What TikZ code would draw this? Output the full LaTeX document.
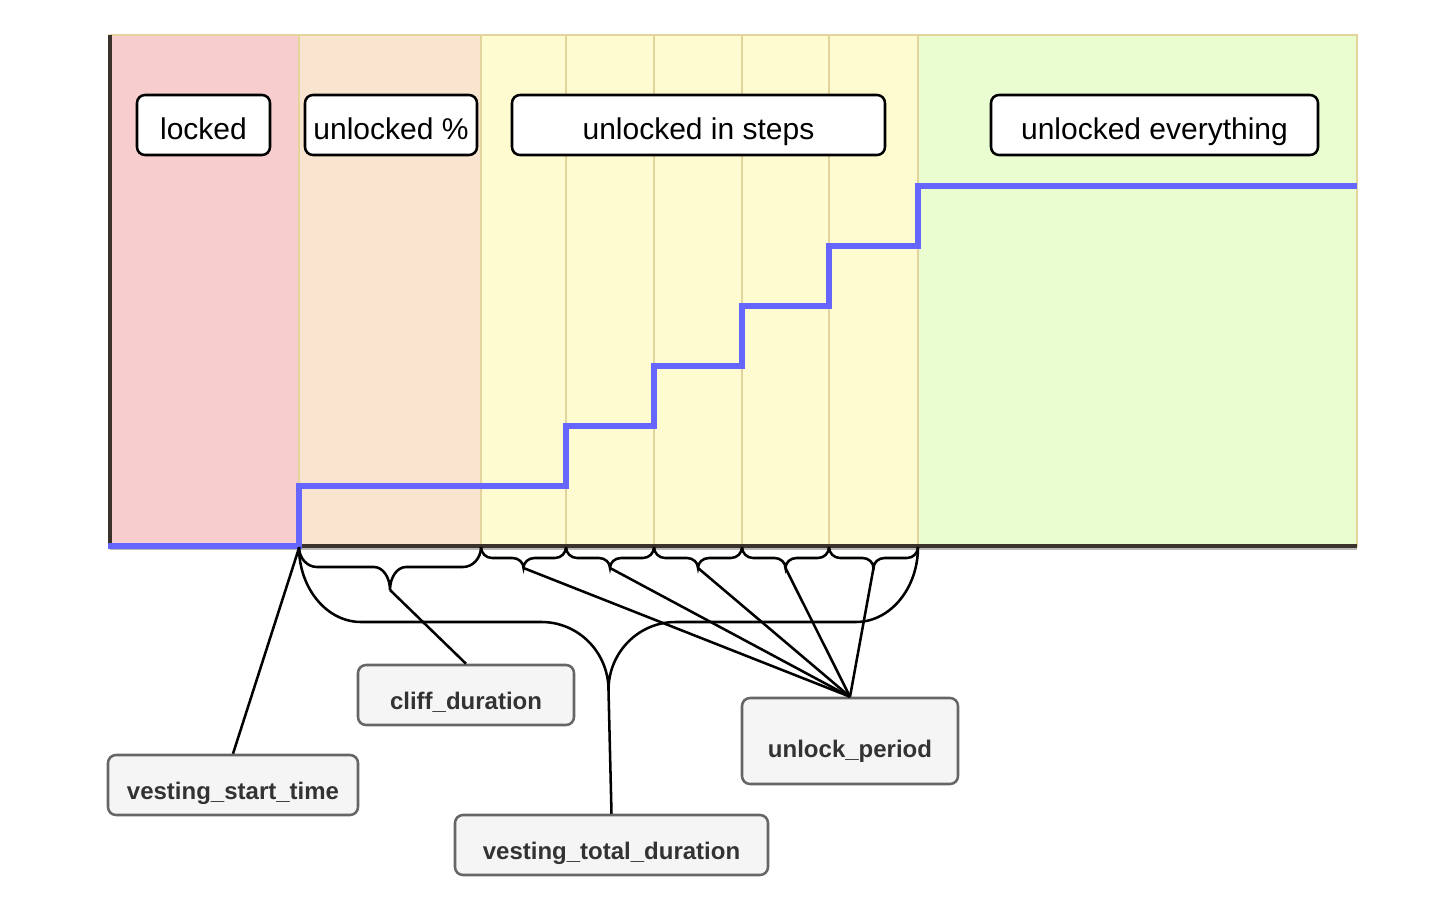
\documentclass[tikz,border=0pt]{standalone}
\usepackage{fontspec}
\setmainfont{Liberation Sans}
\definecolor{cRed}{HTML}{F7CDCD}
\definecolor{cOrange}{HTML}{F9E5CF}
\definecolor{cYellow}{HTML}{FFFBD0}
\definecolor{cGreen}{HTML}{E9FDD1}
\definecolor{cBorder}{HTML}{E3D49C}
\definecolor{cAxis}{HTML}{3A322B}
\definecolor{cBlue}{HTML}{6666FF}
\definecolor{cBoxFill}{HTML}{F5F5F5}
\definecolor{cBoxLine}{HTML}{666666}
\definecolor{cBoxText}{HTML}{333333}
\newcommand{\curlybr}[7]{%
  \draw[brc] (#1,#3) .. controls (#1,{#3+0.552*(#4-#3)}) and ({#1+0.448*#6},#4) .. ({#1+#6},#4)
    -- ({(#1+#2)/2-#7},#4) .. controls ({(#1+#2)/2-0.448*#7},#4) and ({(#1+#2)/2},{#4+0.448*(#5-#4)}) .. ({(#1+#2)/2},#5)
    .. controls ({(#1+#2)/2},{#4+0.448*(#5-#4)}) and ({(#1+#2)/2+0.448*#7},#4) .. ({(#1+#2)/2+#7},#4)
    -- ({#2-#6},#4) .. controls ({#2-0.448*#6},#4) and (#2,{#3+0.552*(#4-#3)}) .. (#2,#3);}
\tikzset{
  col/.style={draw=cBorder, line width=2.2pt},
  axisline/.style={draw=cAxis, line width=3pt},
  blueline/.style={draw=cBlue, line width=3.8pt},
  brc/.style={draw=black, line width=1.9pt},
  conn/.style={draw=black, line width=1.9pt},
  topbox/.style={draw=black, fill=white, line width=1.9pt, rounded corners=6pt,
    inner sep=0pt, minimum height=45pt, text height=21pt, text depth=0pt,
    font=\fontsize{22.5}{27}\selectfont},
  parbox/.style={draw=cBoxLine, fill=cBoxFill, line width=1.9pt, rounded corners=6pt,
    inner sep=0pt, minimum height=45pt, text height=21pt, text depth=0pt, text=cBoxText,
    font=\bfseries\fontsize{18}{22}\selectfont},
}
\begin{document}
\begin{tikzpicture}[x=0.75pt,y=-0.75pt]
\useasboundingbox (0,0) rectangle (1454,924);
% columns
\draw[col, fill=cRed] (110,35) rectangle (299,546);
\draw[col, fill=cOrange] (299,35) rectangle (481,546);
\draw[col, fill=cYellow] (481,35) rectangle (566,546);
\draw[col, fill=cYellow] (566,35) rectangle (654,546);
\draw[col, fill=cYellow] (654,35) rectangle (742,546);
\draw[col, fill=cYellow] (742,35) rectangle (829,546);
\draw[col, fill=cYellow] (829,35) rectangle (918,546);
\draw[col, fill=cGreen] (918,35) rectangle (1357,546);
% axes
\draw[gray!55, line width=1.5pt] (110,549) -- (1357,549);
\draw[axisline] (110,35) -- (110,546) -- (1357,546);
% step line
\draw[blueline] (108,546) -- (299,546) -- (299,486) -- (566,486) -- (566,426) -- (654,426)
  -- (654,366) -- (742,366) -- (742,306) -- (829,306) -- (829,246) -- (918,246) -- (918,186) -- (1357,186);
% top labels
\node[topbox, minimum width=99.75pt] (lk) at (203.5,125) {locked};
\node[topbox, minimum width=129pt] (up) at (391,125) {unlocked \%};
\node[topbox, minimum width=279.75pt] (us) at (698.5,125) {unlocked in steps};
\node[topbox, minimum width=245.25pt] (ue) at (1154.5,125) {unlocked everything};
% braces
\curlybr{299}{918}{547}{622}{690}{62}{67}
\curlybr{299}{481}{547}{567}{590}{18}{16}
\curlybr{481}{566}{547}{558}{568}{11}{11}
\curlybr{566}{654}{547}{558}{568}{11}{11}
\curlybr{654}{742}{547}{558}{568}{11}{11}
\curlybr{742}{829}{547}{558}{568}{11}{11}
\curlybr{829}{918}{547}{558}{568}{11}{11}
\coordinate (start) at (299,548);
\coordinate (tipT) at (608.5,690);
\coordinate (tipC) at (390,590);
\coordinate (tip1) at (523.5,568);
\coordinate (tip2) at (610,568);
\coordinate (tip3) at (698,568);
\coordinate (tip4) at (785.5,568);
\coordinate (tip5) at (873.5,568);
% parameter boxes
\node[parbox, minimum width=187.5pt] (vst) at (233,785) {vesting\_start\_time};
\node[parbox, minimum width=162pt] (cd) at (466,695) {cliff\_duration};
\node[parbox, minimum width=234.75pt] (vtd) at (611.5,845) {vesting\_total\_duration};
\node[parbox, minimum width=162pt, minimum height=64.5pt, text height=24pt] (upd) at (850,741) {unlock\_period};
% connectors
\draw[conn] (start) -- (vst.north);
\draw[conn] (tipC) -- (cd.north);
\draw[conn] (tipT) -- (vtd.north);
\foreach \t in {tip1,tip2,tip3,tip4,tip5} \draw[conn] (\t) -- (upd.north);
\end{tikzpicture}
\end{document}
